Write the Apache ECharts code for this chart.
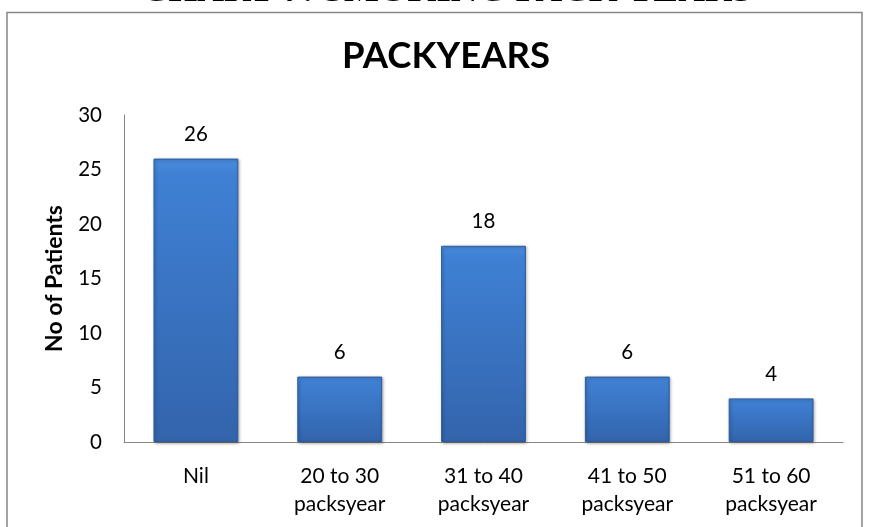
<!DOCTYPE html>
<html>
<head>
<meta charset="utf-8">
<script src="https://cdn.jsdelivr.net/npm/echarts@6/dist/echarts.min.js"></script>
<style>
  html, body { margin: 0; padding: 0; background: #fff; }
  #chart { width: 869px; height: 527px; }
</style>
</head>
<body>
<div id="chart"></div>
<script>
// Smoking history: patients grouped by pack-years
const categories = ['Nil', '20 to 30\npacksyear', '31 to 40\npacksyear', '41 to 50\npacksyear', '51 to 60\npacksyear'];
const patients = [26, 6, 18, 6, 4];
const yTicks = { min: 0, max: 30, interval: 5 };

const font = 'Lato, "Open Sans", sans-serif';
const chart = echarts.init(document.getElementById('chart'));

chart.setOption({
  animation: false,
  backgroundColor: '#ffffff',
  graphic: [
    {
      // document caption sitting above the chart frame (runs off the top edge)
      type: 'text',
      x: 447,
      y: -27,
      style: {
        text: 'CHART 7: SMOKING PACK YEARS',
        font: 'bold 37px "Liberation Serif", "Times New Roman", serif',
        fill: '#000',
        textAlign: 'center'
      }
    },
    {
      type: 'rect',
      shape: { x: 7, y: 12.5, width: 855, height: 530 },
      style: { fill: 'none', stroke: '#878787', lineWidth: 1.5 }
    },
    {
      type: 'text',
      x: 446,
      y: 38,
      style: {
        text: 'PACKYEARS',
        font: 'bold 36.5px Lato, "Open Sans", sans-serif',
        fill: '#000',
        textAlign: 'center'
      }
    }
  ],
  grid: { left: 124, right: 26, top: 115, bottom: 85 },
  xAxis: {
    type: 'category',
    data: categories,
    axisLine: { lineStyle: { color: '#868686', width: 1 } },
    axisTick: { show: false },
    axisLabel: { color: '#000', fontFamily: font, fontSize: 21, lineHeight: 28, margin: 20 }
  },
  yAxis: {
    type: 'value',
    min: yTicks.min,
    max: yTicks.max,
    interval: yTicks.interval,
    name: 'No of Patients',
    nameLocation: 'middle',
    nameGap: 58,
    nameRotate: 90,
    nameTextStyle: { color: '#000', fontFamily: font, fontWeight: 'bold', fontSize: 23 },
    axisLine: { show: true, lineStyle: { color: '#868686', width: 1 } },
    axisTick: { show: false },
    splitLine: { show: false },
    axisLabel: { color: '#000', fontFamily: font, fontSize: 20.5, margin: 22 }
  },
  series: [{
    type: 'bar',
    data: patients,
    barWidth: '59%',
    itemStyle: {
      color: new echarts.graphic.LinearGradient(0, 0, 0, 1, [
        { offset: 0, color: '#4a8bdc' },
        { offset: 0.06, color: '#3f80d4' },
        { offset: 1, color: '#3364ac' }
      ]),
      borderColor: '#2c5c9e',
      borderWidth: 1,
      shadowColor: 'rgba(0,0,0,0.35)',
      shadowBlur: 3,
      shadowOffsetX: 1,
      shadowOffsetY: 1
    },
    label: {
      show: true,
      position: 'top',
      distance: 14,
      color: '#000',
      fontFamily: font,
      fontSize: 20.5
    }
  }]
});
</script>
</body>
</html>
